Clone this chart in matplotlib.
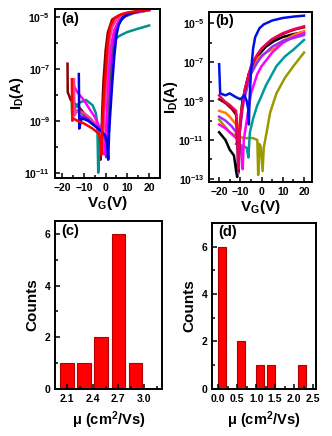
import numpy as np
import matplotlib
matplotlib.use("Agg")
import matplotlib.pyplot as plt
from matplotlib.ticker import FixedLocator, FuncFormatter, MultipleLocator

plt.rcParams['font.family'] = ['Liberation Sans', 'DejaVu Sans']
plt.rcParams['font.weight'] = 'bold'
plt.rcParams['mathtext.fontset'] = 'custom'
plt.rcParams['mathtext.rm'] = 'Liberation Sans:bold'
plt.rcParams['mathtext.bf'] = 'Liberation Sans:bold'
plt.rcParams['mathtext.it'] = 'Liberation Sans:bold'
plt.rcParams['mathtext.default'] = 'bf'

# ---- transfer curves, (a): gate voltage (V) and log10 of drain current (A)
A_MAROON = ([-17.5, -17.4, -16, -12, -8, -4, -2.6, -2.3, -2.0, -1.5, -1, 0, 1, 3, 6, 10, 15, 20],
            [-6.8, -7.9, -8.2, -8.5, -8.9, -9.2, -9.6, -10.5, -9.8, -8.5, -7.5, -6.3, -5.6, -5.1, -4.95, -4.85, -4.78, -4.72])
A_RED = ([-15.5, -15.3, -15, -13, -10, -6, -3, -2.2, -1.8, -1.5, -1, 0, 1, 2, 4, 7, 10, 15, 20],
         [-7.4, -9.0, -8.9, -9.0, -9.1, -9.3, -9.5, -9.9, -10.3, -9.2, -8.4, -7.2, -6.0, -5.4, -5.05, -4.9, -4.83, -4.77, -4.72])
A_PINK = ([-14.5, -14.3, -13, -10, -7, -4, -2, -1.5, -1, -0.5, 0, 1, 2, 3, 5, 8, 12, 20],
          [-7.4, -8.8, -8.6, -8.7, -8.9, -9.2, -9.5, -10.2, -9.5, -8.5, -7.6, -6.5, -5.8, -5.4, -5.1, -4.93, -4.83, -4.74])
A_MAGENTA = ([-15, -13, -10, -7, -5, -3, -1, -0.5, 0, 0.5, 1, 2, 3, 4, 6, 9, 13, 20],
             [-7.6, -7.9, -8.2, -8.6, -8.85, -9.2, -9.6, -10.3, -9.7, -8.8, -7.8, -6.6, -5.9, -5.5, -5.15, -4.95, -4.83, -4.73])
A_GREEN = ([-15.5, -15.4, -14, -11, -8, -5, -3, -1, 0, 0.3, 0.6, 1, 2, 3, 4, 6, 9, 13, 20],
           [-8.3, -8.75, -8.6, -8.7, -8.9, -9.1, -9.3, -9.5, -9.7, -10.4, -9.6, -8.8, -7.4, -6.3, -5.6, -5.2, -4.98, -4.85, -4.74])
A_TEAL = ([-14, -12, -9, -6, -4.5, -3.8, -3.4, -3.0, -2.5, -1.5, -0.5, 0.5, 1.5, 2.5, 3.5, 5, 7, 10, 15, 20],
          [-8.5, -8.3, -8.2, -8.4, -8.7, -9.1, -11.0, -10.2, -9.6, -9.1, -8.4, -7.3, -6.6, -6.1, -5.9, -5.8, -5.7, -5.58, -5.45, -5.33])
A_VIOLET = ([-12, -9, -6, -3, -1, 0.4, 0.8, 1.2, 2, 3, 4, 5, 7, 10, 15, 20],
            [-8.8, -8.9, -9.1, -9.3, -9.5, -9.8, -10.4, -9.6, -8.5, -7.2, -6.1, -5.5, -5.1, -4.9, -4.78, -4.72])
A_BLUE = ([-12.3, -12.1, -11, -8, -5, -2, 0, 0.8, 1.2, 1.6, 2, 3, 4, 5, 6, 8, 11, 15, 20],
          [-7.2, -9.3, -8.9, -9.0, -9.2, -9.4, -9.6, -9.9, -10.5, -9.5, -8.9, -7.6, -6.5, -5.7, -5.3, -5.0, -4.87, -4.78, -4.72])

# ---- transfer curves, (b)
B_BLACK = ([-20, -17, -15, -13, -12, -11.5, -11.2, -10.5, -9, -6, -2, 2, 6, 10, 15, 20],
           [-10.6, -11.0, -11.5, -11.8, -12.6, -12.9, -12.2, -10.5, -9.0, -7.6, -6.7, -6.2, -5.9, -5.7, -5.55, -5.45])
B_OLIVE = ([-20, -15, -12, -8, -4, -2, -1.6, -1.1, -0.5, 0.5, 1, 2.4, 4, 7, 11, 15, 20],
           [-9.95, -10.6, -10.8, -10.9, -10.9, -11.0, -12.8, -11.2, -11.3, -12.6, -11.4, -10.6, -9.6, -8.6, -7.8, -7.2, -6.5])
B_ORANGE = ([-20, -17, -15, -12, -11, -10, -8, -5, -2, 2, 6, 10, 15, 20],
            [-9.5, -9.6, -9.8, -10.2, -10.8, -9.8, -8.6, -7.5, -6.8, -6.5, -6.3, -5.9, -5.6, -5.4])
B_TEAL = ([-12, -9, -7, -6.2, -5.9, -5.5, -4, -2, -0.7, 2, 4, 7, 11, 15, 20],
          [-11.2, -11.3, -11.4, -11.9, -11.3, -10.6, -9.9, -9.2, -8.9, -8.2, -7.8, -7.2, -6.7, -6.35, -5.85])
B_MAGENTA = ([-20, -17, -14, -11, -9.5, -8.9, -8.4, -7, -5, -2, 0, 5, 10, 15, 20],
             [-10.2, -10.4, -10.7, -11.0, -11.5, -12.5, -11.0, -10.0, -8.6, -7.6, -7.2, -6.5, -6.0, -5.7, -5.5])
B_PURPLE = ([-20, -17, -14, -12, -11.3, -10.8, -10.3, -9, -8, -5, -2, 0, 5, 10, 15, 20],
            [-9.8, -10.0, -10.3, -10.6, -11.5, -12.7, -10.6, -9.4, -8.8, -7.6, -7.0, -6.7, -6.2, -5.9, -5.75, -5.6])
B_MAROON = ([-20, -17, -14, -12, -11.2, -10.8, -10.3, -9, -6, -3, 0, 4, 8, 12, 16, 20],
            [-8.9, -9.1, -9.4, -9.7, -11.5, -12.6, -10.6, -9.0, -7.6, -6.8, -6.3, -5.9, -5.65, -5.45, -5.3, -5.2])
B_CRIMSON = ([-20, -17.5, -15, -12, -11.3, -11.0, -10.5, -10, -8, -5, -2, 0, 5, 10, 15, 20],
             [-8.7, -9.0, -9.2, -9.5, -10.8, -12.5, -11.0, -10.0, -8.4, -7.2, -6.6, -6.3, -5.8, -5.5, -5.3, -5.15])
B_BLUE = ([-20, -19.5, -17, -15, -12, -10, -8, -7, -6.3, -6.0, -5.7, -5, -4, -3, -1, 1, 5, 10, 15, 20],
          [-7.1, -8.6, -8.7, -8.6, -8.8, -8.9, -8.7, -9.0, -9.4, -10.2, -9.0, -7.5, -6.3, -5.7, -5.25, -5.05, -4.85, -4.72, -4.65, -4.6])

# ---- mobility histograms
C_MU = [2.1, 2.3, 2.5, 2.7, 2.9]
C_COUNTS = [1, 1, 2, 6, 1]
D_MU = [0.1, 0.6, 1.1, 1.4, 2.2]
D_COUNTS = [6, 2, 1, 1, 1]

fig = plt.figure(figsize=(3.32, 4.36), dpi=100)

ax_a = fig.add_axes([0.166, 0.592, 0.316, 0.387])
ax_b = fig.add_axes([0.630, 0.583, 0.310, 0.390])
ax_c = fig.add_axes([0.166, 0.108, 0.322, 0.385])
ax_d = fig.add_axes([0.639, 0.108, 0.313, 0.381])

def sci(v, pos):
    return r'10$^{%d}$' % int(round(np.log10(v)))

def style(ax):
    for s in ax.spines.values():
        s.set_linewidth(1.4)
    ax.tick_params(which='both', direction='in', top=False, right=False,
                   labelsize=7.5, width=1.1)
    ax.tick_params(which='major', length=3.5)
    ax.tick_params(which='minor', length=2)
    for lab in ax.get_xticklabels() + ax.get_yticklabels():
        lab.set_fontweight('bold')

def transfer(ax, curves, ylo, yhi, majors, xlim):
    for (v, i), c in curves:
        ax.plot(v, np.power(10.0, i), color=c, lw=1.8, solid_joinstyle='round')
    ax.set_yscale('log')
    ax.set_ylim(10.0 ** ylo, 10.0 ** yhi)
    ax.set_xlim(*xlim)
    ax.yaxis.set_major_locator(FixedLocator([10.0 ** m for m in majors]))
    ax.yaxis.set_minor_locator(FixedLocator([10.0 ** m for m in range(int(np.floor(ylo)), int(np.ceil(yhi)))]))
    ax.yaxis.set_major_formatter(FuncFormatter(sci))
    ax.yaxis.set_minor_formatter(FuncFormatter(lambda v, p: ''))
    ax.xaxis.set_major_locator(MultipleLocator(10))
    ax.xaxis.set_minor_locator(MultipleLocator(5))
    ax.set_xlabel(r'V$_G$(V)', fontsize=11, fontweight='bold', labelpad=1)
    ax.set_ylabel(r'I$_D$(A)', fontsize=10.5, fontweight='bold', labelpad=-1)
    style(ax)

transfer(ax_a, [(A_MAROON, '#8b0000'), (A_TEAL, '#009090'), (A_GREEN, '#007a1e'),
                (A_MAGENTA, '#ff00ff'), (A_PINK, '#ff3c9a'), (A_VIOLET, '#9a00ff'),
                (A_BLUE, '#0000e0'), (A_RED, '#ff0000')],
         -11.2, -4.7, [-5, -7, -9, -11], (-23.2, 25))
transfer(ax_b, [(B_OLIVE, '#9a9a00'), (B_TEAL, '#009a9a'), (B_BLACK, '#000000'),
                (B_ORANGE, '#ff8000'), (B_MAGENTA, '#ff00ff'), (B_PURPLE, '#9a2cff'),
                (B_MAROON, '#8b0000'), (B_CRIMSON, '#ee0060'), (B_BLUE, '#0010e8')],
         -13.15, -4.4, [-5, -7, -9, -11, -13], (-24.7, 23.8))

def hist(ax, mu, counts, width, xlim, ylim, xmajor, xminor):
    ax.bar(mu, counts, width=width, color='#ff0000', edgecolor='#b00000', linewidth=0.8)
    ax.set_xlim(*xlim)
    ax.set_ylim(*ylim)
    ax.xaxis.set_major_locator(xmajor)
    ax.xaxis.set_minor_locator(xminor)
    ax.yaxis.set_major_locator(MultipleLocator(2))
    ax.yaxis.set_minor_locator(MultipleLocator(1))
    ax.set_xlabel('μ (cm$^2$/Vs)', fontsize=10.5, fontweight='bold', labelpad=4)
    ax.set_ylabel('Counts', fontsize=11, fontweight='bold', labelpad=4)
    style(ax)

hist(ax_c, C_MU, C_COUNTS, 0.16, (1.96, 3.21), (0, 6.5),
     FixedLocator([2.1, 2.4, 2.7, 3.0]), FixedLocator([2.25, 2.55, 2.85, 3.15]))
ax_c.xaxis.set_major_formatter(FuncFormatter(lambda v, p: '%.1f' % v))
hist(ax_d, D_MU, D_COUNTS, 0.21, (-0.16, 2.58), (0, 7),
     MultipleLocator(0.5), MultipleLocator(0.25))
ax_d.xaxis.set_major_formatter(FuncFormatter(lambda v, p: '%.1f' % v))

for ax, tag in [(ax_a, '(a)'), (ax_b, '(b)'), (ax_c, '(c)'), (ax_d, '(d)')]:
    ax.text(0.06, 0.985, tag, transform=ax.transAxes, ha='left', va='top',
            fontsize=10.5, fontweight='bold')

fig.savefig('out.png', dpi=100)
